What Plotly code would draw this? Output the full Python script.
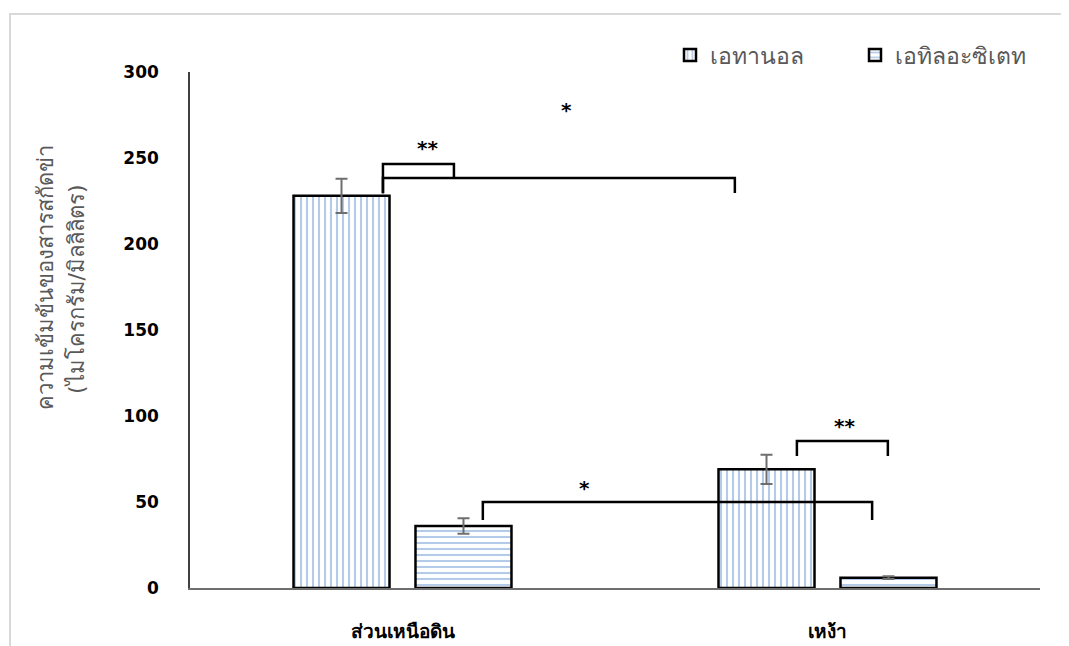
import plotly.graph_objects as go

categories = ["ส่วนเหนือดิน", "เหง้า"]
series_names = ["เอทานอล", "เอทิลอะซิเตท"]
ethanol_vals = [228, 69]
ethanol_err = [10, 8.5]
ethyl_vals = [36, 6]
ethyl_err = [4.5, 0.8]
y_ticks = [0, 50, 100, 150, 200, 250, 300]

# significance brackets: (x_left, x_right, y_top, left_leg_bottom, right_leg_bottom, label, label_x, label_y)
brackets = [
    (-0.046, 0.121, 246.5, 229.5, 237.8, "**", 0.058, 256),
    (-0.046, 0.782, 238.4, 229.5, 229.7, "*", 0.387, 278),
    (0.928, 1.142, 85.5, 76.7, 76.7, "**", 1.041, 94),
    (0.189, 1.105, 50.0, 39.5, 39.5, "*", 0.429, 58),
]

OFF = 8  # page body margin
W, H = 1069 - OFF, 646 - OFF
# plot area in screenshot pixels: x 190..1040, y 72..588
ML, MT = 190 - OFF, 72 - OFF
MR, MB = W - (1040 - OFF), H - (588 - OFF)
pw, ph = W - ML - MR, H - MT - MB


def px_x(px):
    return (px - OFF - ML) / pw


def px_y(py):
    return (H - MB - (py - OFF)) / ph


x_idx = [0, 1]
pat_color = "#6a95d4"

fig = go.Figure()
fig.add_trace(go.Bar(
    x=x_idx, y=ethanol_vals, name=series_names[0],
    error_y=dict(type="data", array=ethanol_err, color="#6e6e6e", thickness=2, width=6),
    marker=dict(color="white", line=dict(color="black", width=2.5),
                pattern=dict(shape="|", fgcolor=pat_color, bgcolor="white", size=6, solidity=0.35)),
))
fig.add_trace(go.Bar(
    x=x_idx, y=ethyl_vals, name=series_names[1],
    error_y=dict(type="data", array=ethyl_err, color="#6e6e6e", thickness=2, width=6),
    marker=dict(color="white", line=dict(color="black", width=2.5),
                pattern=dict(shape="-", fgcolor=pat_color, bgcolor="white", size=6, solidity=0.35)),
))

shapes = []
annotations = []
for (xl, xr, yt, yl, yr, lab, lx, ly) in brackets:
    shapes.append(dict(type="path", xref="x", yref="y",
                       path=f"M {xl},{yl} L {xl},{yt} L {xr},{yt} L {xr},{yr}",
                       line=dict(color="black", width=2.5)))
    annotations.append(dict(x=lx, y=ly, xref="x", yref="y", text=f"<b>{lab}</b>",
                            showarrow=False, font=dict(size=20, color="black", family="DejaVu Sans")))

# outer light border
shapes.append(dict(type="rect", xref="paper", yref="paper",
                   x0=px_x(10), x1=px_x(1090), y0=px_y(670), y1=px_y(14),
                   line=dict(color="#d9d9d9", width=2), fillcolor="rgba(0,0,0,0)", layer="below"))

# y-axis title (two lines)
annotations.append(dict(x=px_x(45), y=px_y(278), xref="paper", yref="paper",
                        xanchor="center", yanchor="middle",
                        text="ความเข้มข้นของสารสกัดข่า", textangle=-90, showarrow=False,
                        font=dict(size=22, color="#595959")))
annotations.append(dict(x=px_x(76), y=px_y(289), xref="paper", yref="paper",
                        xanchor="center", yanchor="middle",
                        text="(ไมโครกรัม/มิลลิลิตร)", textangle=-90, showarrow=False,
                        font=dict(size=22, color="#595959")))

fig.update_layout(
    width=W, height=H,
    margin=dict(l=ML, r=MR, t=MT, b=MB, autoexpand=False),
    paper_bgcolor="white", plot_bgcolor="white",
    barmode="group", bargap=0.426, bargroupgap=0.213,
    shapes=shapes, annotations=annotations,
    showlegend=True,
    legend=dict(orientation="h", x=px_x(1040), xanchor="right", y=px_y(55), yanchor="middle",
                font=dict(size=23, color="#595959"), itemwidth=30,
                entrywidth=140, entrywidthmode="pixels",
                bgcolor="rgba(0,0,0,0)"),
    font=dict(family="DejaVu Sans"),
)
fig.update_xaxes(
    tickmode="array", tickvals=x_idx, ticktext=[f"<b>{c}</b>" for c in categories],
    range=[-0.5, 1.5], showline=True, linecolor="#6e6e6e", linewidth=1.5,
    ticks="", showgrid=False, zeroline=False, ticklabelstandoff=25,
    tickfont=dict(size=19, color="black"),
)
fig.update_yaxes(
    range=[0, 300], tickvals=y_ticks, showline=True, linecolor="#404040", linewidth=1.5,
    ticks="", showgrid=False, zeroline=False, ticklabelstandoff=26,
    tickfont=dict(size=17, color="black", weight="bold"),
)
fig.write_html("out.html")
